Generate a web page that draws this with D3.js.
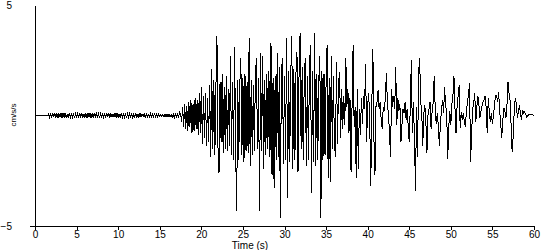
<!DOCTYPE html>
<html>
<head>
<meta charset="utf-8">
<script src="https://cdn.jsdelivr.net/npm/d3@7"></script>
<style>
body{margin:0;background:#fff;}
text{font-family:"Liberation Sans",Arial,sans-serif;font-size:10px;fill:#000;}
.wave{fill:none;stroke:#000;stroke-width:1;shape-rendering:crispEdges;}
</style>
</head>
<body>
<svg id="chart" width="550" height="250"></svg>
<script>
// acceleration record, cm/s/s, one value every 0.125 s
// quiet part: t = 0 .. 17.375
const quietAccel = [0,0,0,0,0,0,0,0,0,0,0,0,0,
 0.06,-0.09,0.12,-0.1,0.13,-0.08,0.1,
 -0.11,0.09,-0.12,0.1,-0.07,0.11,-0.09,0.12,
 -0.1,0.13,-0.11,0.08,-0.1,0.12,-0.09,0.07,
 -0.08,0.1,-0.12,0.09,-0.06,0.08,-0.07,0.11,
 -0.09,0.12,-0.1,0.08,-0.11,0.09,-0.12,0.1,
 -0.08,0.11,-0.13,0.12,-0.1,0.09,-0.08,0.1,
 -0.07,0.09,-0.1,0.08,-0.06,0.07,-0.09,0.1,
 -0.11,0.12,-0.08,0.09,-0.1,0.08,-0.07,0.06,
 -0.08,0.1,-0.09,0.11,-0.1,0.08,-0.12,0.1,
 -0.09,0.07,-0.08,0.1,-0.11,0.09,-0.07,0.08,
 -0.06,0.08,-0.09,0.07,-0.08,0.1,-0.07,0.06,
 -0.08,0.09,-0.07,0.06,-0.05,0.07,-0.08,0.06,
 -0.07,0.05,-0.06,0.08,-0.07,0.06,-0.05,0.07,
 -0.06,0.05,-0.07,0.06,-0.05,0.04,-0.06,0.05,
 -0.07,0.06,-0.05,0.07,-0.06,0.05,-0.07,0.06,
 -0.08,0.07,-0.09,0.1,-0.12,0.13,-0.1,0.15];

// strong motion: t = 17.5 .. 60 (one row per second)
const strongAccel = [
 0.1,-0.3,0.4,-0.5,0.5,-0.6,0.45,-0.7,
 0.6,-0.5,0.7,-0.8,0.5,-0.7,0.8,-0.6,
 0.7,-0.9,1.0,-0.8,1.27,-1.27,0.9,-1.0,
 1.0,-1.36,0.8,-1.2,1.4,-1.9,2.1,-1.5,
 1.6,-1.8,1.2,3.6,-1.4,-2.6,1.5,-1.2,
 1.9,-1.7,1.3,-1.5,1.8,-1.6,1.2,-1.4,
 2.7,-1.8,1.5,-2.0,3.1,-1.5,-4.3,1.6,
 -2.0,1.4,2.6,-1.8,1.7,-2.1,1.9,-1.6,
 1.5,-1.7,3.5,-2.3,1.6,-1.8,1.4,-1.6,
 1.8,2.6,-1.5,1.7,-4.3,2.85,-1.6,2.7,
 -2.4,1.6,-1.8,1.9,-1.5,2.0,-1.9,3.3,
 -2.7,1.7,-3.3,1.8,-2.0,2.85,-1.9,2.2,
 -4.66,1.9,2.6,-2.2,1.8,-2.0,3.5,-3.75,
 2.0,-2.1,1.8,3.6,-2.4,2.1,-2.0,1.9,
 2.85,-2.55,1.9,3.75,-1.5,2.2,-2.0,1.7,
 2.6,-2.3,1.8,-2.0,2.2,3.2,-3.5,2.0,
 -2.1,3.75,-2.3,1.9,-2.0,1.6,2.7,-4.66,
 2.0,-2.0,1.9,-1.8,1.5,3.2,-2.85,1.7,
 -3.0,2.7,-1.5,1.8,-1.2,-1.9,2.4,-1.3,
 1.5,1.95,-1.0,1.2,-0.6,0.9,-0.43,2.6,
 0.4,1.2,-0.8,0.8,-2.55,0.5,3.2,-0.5,
 0.4,-2.85,1.2,-2.4,0.3,-0.9,0.8,-0.4,
 0.9,0.3,2.35,-1.2,0.5,1.0,-0.3,-3.2,
 0.5,3.0,-1.0,-2.7,0.4,0.6,1.15,0.3,
 0.6,-0.2,-0.6,0.4,0.2,0.8,1.9,0.5,
 0.1,-0.8,-1.9,1.2,0.4,0.9,0.3,2.2,
 -0.45,0.8,0.2,0.5,-1.2,-0.4,0.3,0.1,
 0.6,-0.2,0.3,-0.5,-1.2,0.4,2.5,-0.8,
 0.6,-1.0,-3.4,0.4,-1.9,1.95,2.6,0.6,
 0.2,-1.36,0.1,0.45,-0.3,-1.7,0.0,0.3,
 0.6,-0.6,0.2,0.55,1.8,0.3,-0.4,0.1,
 -0.5,-1.36,-0.3,0.2,0.7,0.1,1.27,0.4,
 0.2,-1.95,-0.5,0.2,-0.43,0.5,0.9,1.8,
 0.3,-0.8,0.4,0.9,1.36,-0.57,0.16,-0.2,
 0.1,-0.3,-0.5,0.2,0.6,1.0,1.45,-2.1,
 -0.8,0.3,0.6,1.0,-0.3,0.4,0.9,0.5,
 -0.1,0.2,0.45,0.6,0.7,0.9,0.36,-0.77,
 0.8,0.16,-0.3,0.1,-0.4,0.0,0.5,0.9,
 0.9,0.6,1.05,0.2,-0.4,-1.0,-0.2,0.34,
 0.2,-0.1,0.5,1.5,1.0,0.7,-0.5,-1.67,
 -0.9,0.2,0.8,0.55,-0.1,0.2,0.45,0.1,
 -0.2,0.25,0.1,0.16,0.05,-0.07,0.0,0.03,
 0.07,0.05,0.02,0.03,0.0];

const xTicks = [0,5,10,15,20,25,30,35,40,45,50,55,60];
const yTicks = [-5,5];

const dt = 0.125;
const data = quietAccel.concat(strongAccel).map((v,i)=>({t:i*dt, v:v}));

const svg = d3.select("#chart"),
margin = {top:5,right:16,bottom:24,left:35},
width = +svg.attr("width") - margin.left - margin.right,
height = +svg.attr("height") - margin.top - margin.bottom;

const g = svg.append("g")
.attr("transform",`translate(${margin.left},${margin.top})`);

const x = d3.scaleLinear().domain([0,60]).range([0,width]);
const y = d3.scaleLinear().domain([-5,5]).range([height,0]);

// x axis, the line runs a little past the y axis like the original
const xAxis = g.append("g")
.attr("transform",`translate(0,${height})`)
.attr("font-size",null).attr("font-family",null)
.call(d3.axisBottom(x).tickValues(xTicks).tickSize(4).tickSizeOuter(0).tickPadding(1));
xAxis.select(".domain").remove();
xAxis.selectAll("line").attr("shape-rendering","crispEdges");
g.append("line")
.attr("x1",-5).attr("x2",x(60))
.attr("y1",height).attr("y2",height)
.attr("stroke","#000")
.attr("shape-rendering","crispEdges");

const yAxis = g.append("g")
.call(d3.axisLeft(y).tickValues(yTicks).tickSize(0).tickPadding(23));
yAxis.select(".domain").attr("shape-rendering","crispEdges");

g.selectAll("g").attr("font-size",null).attr("font-family",null);

g.append("path")
.datum(data)
.attr("class","wave")
.attr("d",d3.line().x(d=>x(d.t)).y(d=>y(d.v)));

svg.append("text")
.attr("transform","translate(16,115) rotate(-90)")
.attr("text-anchor","middle")
.style("font-size","8px")
.text("cm/s/s");

svg.append("text")
.attr("x",250)
.attr("y",249)
.attr("text-anchor","middle")
.text("Time (s)");
</script>
</body>
</html>
